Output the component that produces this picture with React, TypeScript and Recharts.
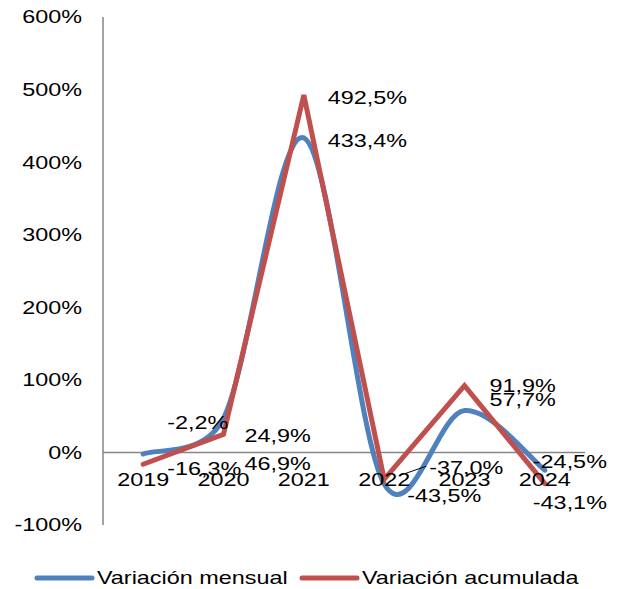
import React from 'react';
import { LineChart, Line, XAxis, YAxis, ReferenceLine, LabelList } from 'recharts';

const YEARS = ['2019', '2020', '2021', '2022', '2023', '2024'];
const MENSUAL = [-2.2, 46.9, 433.4, -43.5, 57.7, -24.5];
const ACUMULADA = [-16.3, 24.9, 492.5, -37.0, 91.9, -43.1];
const Y_TICKS = [-100, 0, 100, 200, 300, 400, 500, 600];

// label placement next to each point (Excel-like), [dx, dy]
const MENSUAL_LABEL_POS = [[24, -31], [21, 45], [24, 3], [23, 12], [25, -11], [-12, -9]];
const ACUMULADA_LABEL_POS = [[24, 4], [21, 1], [24, 3], [45, -12], [25, 0], [-12, 19]];

const BLUE = '#4F81BD';
const RED = '#C0504D';
const AXIS = '#868686';
const FONT = '"Liberation Sans", Arial, sans-serif';
const FS = 18;
const STRETCH = 1.3;

const W = 623;
const H = 589;
const Y_AXIS_W = 103;
const X_AXIS_H = 30;
const MARGIN = { top: 17, right: 38, bottom: 64 - X_AXIS_H, left: 0 };
const Y_MIN = -100;
const Y_MAX = 600;
const PLOT_H = H - MARGIN.top - MARGIN.bottom - X_AXIS_H;
const PLOT_W = W - MARGIN.left - MARGIN.right - Y_AXIS_W;
const HALF_BAND = PLOT_W / YEARS.length / 2;
const ZERO_Y = MARGIN.top + (PLOT_H * Y_MAX) / (Y_MAX - Y_MIN);

const data = YEARS.map((year, i) => ({ year, mensual: MENSUAL[i], acumulada: ACUMULADA[i] }));

const fmt = (v: number) => v.toFixed(1).replace('.', ',') + '%';

// control arm along the neighbour tangent, capped at half the segment
const arm = (from: number[], to: number[], seg: number) => {
  let dx = (to[0] - from[0]) / 6;
  let dy = (to[1] - from[1]) / 6;
  const len = Math.hypot(dx, dy);
  const max = seg * 0.5;
  if (len > max && len > 0) {
    dx *= max / len;
    dy *= max / len;
  }
  return [dx, dy];
};

// Excel style smoothed line (Catmull-Rom through the points)
const smoothCurve = (ctx: any) => {
  let pts: [number, number][] = [];
  return {
    areaStart() {},
    areaEnd() {},
    lineStart() { pts = []; },
    point(x: number, y: number) { pts.push([+x, +y]); },
    lineEnd() {
      if (!pts.length) return;
      ctx.moveTo(pts[0][0], pts[0][1]);
      for (let i = 0; i < pts.length - 1; i++) {
        const p0 = pts[i - 1] || pts[i];
        const p1 = pts[i];
        const p2 = pts[i + 1];
        const p3 = pts[i + 2] || p2;
        const seg = Math.hypot(p2[0] - p1[0], p2[1] - p1[1]);
        const a1 = arm(p0, p2, seg);
        const a2 = arm(p1, p3, seg);
        ctx.bezierCurveTo(p1[0] + a1[0], p1[1] + a1[1], p2[0] - a2[0], p2[1] - a2[1], p2[0], p2[1]);
      }
    },
  };
};

const SText: React.FC<{ x: number; y: number; anchor?: string; children: React.ReactNode }> = ({ x, y, anchor = 'start', children }) => (
  <text
    transform={`translate(${x} ${y}) scale(${STRETCH} 1)`}
    textAnchor={anchor as any}
    dominantBaseline="central"
    fill="#000"
    fontFamily={FONT}
    fontSize={FS}
  >
    {children}
  </text>
);

const YTick = (props: any) => {
  const { y, payload } = props;
  return <SText x={82} y={y} anchor="end">{payload.value + '%'}</SText>;
};

const XTick = (props: any) => {
  const { x, payload } = props;
  return <SText x={x} y={ZERO_Y + 27} anchor="middle">{payload.value}</SText>;
};

const makeLabel = (pos: number[][], leaderAt = -1) => (props: any) => {
  const { x, y, value, index } = props;
  const [dx, dy] = pos[index];
  return (
    <g>
      {index === leaderAt && (
        <line x1={x + 16} y1={y - 4} x2={x + dx - 3} y2={y + dy - 1} stroke="#000" strokeWidth={1} />
      )}
      <SText x={x + dx} y={y + dy}>{fmt(value)}</SText>
    </g>
  );
};

const LegendItem: React.FC<{ x: number; color: string; label: string }> = ({ x, color, label }) => (
  <g>
    <line x1={x} y1={578} x2={x + 55} y2={578} stroke={color} strokeWidth={5} strokeLinecap="round" />
    <SText x={x + 60} y={578}>{label}</SText>
  </g>
);

const App: React.FC = () => (
  <div style={{ position: 'absolute', left: 0, top: 0, width: W, height: H, background: '#fff' }}>
    <LineChart width={W} height={H} data={data} margin={MARGIN}>
      <XAxis
        dataKey="year"
        height={X_AXIS_H}
        axisLine={false}
        tickLine={false}
        tick={<XTick />}
        interval={0}
        padding={{ left: HALF_BAND, right: HALF_BAND }}
      />
      <YAxis
        domain={[Y_MIN, Y_MAX]}
        ticks={Y_TICKS}
        width={Y_AXIS_W}
        axisLine={{ stroke: AXIS, strokeWidth: 1.5 }}
        tickLine={false}
        tick={<YTick />}
        interval={0}
      />
      <ReferenceLine y={0} stroke={AXIS} strokeWidth={1.5} />
      <Line
        dataKey="mensual"
        type={smoothCurve as any}
        stroke={BLUE}
        strokeWidth={5}
        strokeLinecap="round"
        dot={false}
        activeDot={false}
        isAnimationActive={false}
      >
        <LabelList dataKey="mensual" content={makeLabel(MENSUAL_LABEL_POS)} />
      </Line>
      <Line
        dataKey="acumulada"
        type="linear"
        stroke={RED}
        strokeWidth={5}
        strokeLinecap="round"
        dot={false}
        activeDot={false}
        isAnimationActive={false}
      >
        <LabelList dataKey="acumulada" content={makeLabel(ACUMULADA_LABEL_POS, 3)} />
      </Line>
    </LineChart>
    <svg width={W} height={H} style={{ position: 'absolute', left: 0, top: 0, pointerEvents: 'none' }}>
      <LegendItem x={37} color={BLUE} label="Variación mensual" />
      <LegendItem x={302} color={RED} label="Variación acumulada" />
    </svg>
  </div>
);

export default App;
